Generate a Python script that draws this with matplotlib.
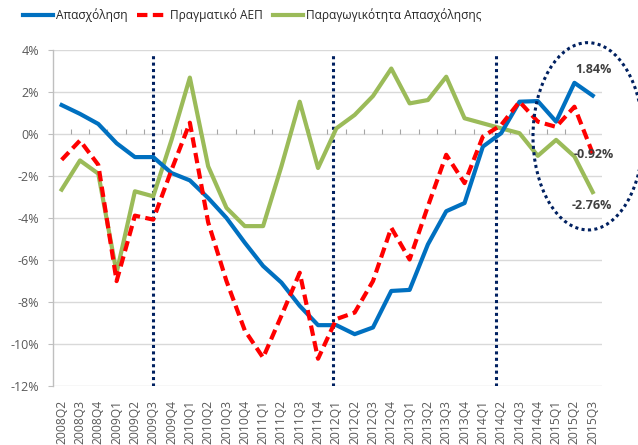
import matplotlib
matplotlib.use("Agg")
import matplotlib.pyplot as plt
from matplotlib.patches import Ellipse

plt.rcParams['font.family'] = ['Open Sans', 'DejaVu Sans']

quarters = ["2008Q2", "2008Q3", "2008Q4", "2009Q1", "2009Q2", "2009Q3", "2009Q4",
            "2010Q1", "2010Q2", "2010Q3", "2010Q4", "2011Q1", "2011Q2", "2011Q3",
            "2011Q4", "2012Q1", "2012Q2", "2012Q3", "2012Q4", "2013Q1", "2013Q2",
            "2013Q3", "2013Q4", "2014Q1", "2014Q2", "2014Q3", "2014Q4", "2015Q1",
            "2015Q2", "2015Q3"]

employment = [1.39, 0.97, 0.49, -0.43, -1.09, -1.09, -1.85, -2.2, -3.04, -3.99,
              -5.17, -6.28, -7.07, -8.18, -9.1, -9.1, -9.53, -9.21, -7.47, -7.42,
              -5.25, -3.67, -3.28, -0.59, 0.05, 1.55, 1.58, 0.6, 2.45, 1.84]
real_gdp = [-1.22, -0.30, -1.46, -7.0, -3.88, -4.07, -1.7, 0.55, -4.2, -7.0,
            -9.35, -10.65, -8.65, -6.6, -10.7, -8.81, -8.5, -7.0, -4.46, -5.97,
            -3.43, -0.98, -2.33, -0.11, 0.44, 1.55, 0.6, 0.35, 1.31, -0.92]
productivity = [-2.64, -1.25, -1.88, -6.6, -2.72, -2.96, -0.27, 2.7, -1.53, -3.51,
                -4.38, -4.38, -1.53, 1.55, -1.61, 0.28, 0.92, 1.82, 3.13, 1.47,
                1.63, 2.74, 0.76, 0.52, 0.28, 0.05, -1.03, -0.27, -1.06, -2.76]

series_names = ["Απασχόληση", "Πραγματικό ΑΕΠ", "Παραγωγικότητα Απασχόλησης"]
y_ticks = [4, 2, 0, -2, -4, -6, -8, -10, -12]
event_positions = [5.0, 14.83, 23.72]

BLUE = "#0070C0"
RED = "#FF0000"
GREEN = "#9BBB59"
NAVY = "#002060"
TXT = "#595959"

fig = plt.figure(figsize=(6.38, 4.45), dpi=100)
ax = fig.add_axes([52.5 / 638, 1 - 386 / 445, (601.9 - 52.5) / 638, (386 - 50.3) / 445])

x = list(range(len(quarters)))

ax.set_ylim(-12, 4)
ax.set_xlim(-0.5, len(quarters) - 0.5)

for yv in y_ticks:
    ax.axhline(yv, color="#D9D9D9", lw=1.0, zorder=0)

for xp in event_positions:
    ax.plot([xp, xp], [-12, 3.8], color=NAVY, lw=2.2, linestyle=(0, (1, 1.1)),
            dash_capstyle="butt", zorder=1)

ax.plot(x, employment, color=BLUE, lw=3.0, label=series_names[0], zorder=3,
        solid_joinstyle="round")
ax.plot(x, real_gdp, color=RED, lw=3.0, linestyle=(0, (2.5, 1.3)),
        label=series_names[1], zorder=4)
ax.plot(x, productivity, color=GREEN, lw=3.0, label=series_names[2], zorder=2,
        solid_joinstyle="round")

# spines
for s in ["top", "right", "bottom"]:
    ax.spines[s].set_visible(False)
ax.spines["left"].set_color("#BFBFBF")
ax.spines["left"].set_linewidth(1.0)

ax.set_yticks(y_ticks)
ax.set_yticklabels([f"{v}%" for v in y_ticks], color=TXT, fontsize=9)
ax.tick_params(axis="y", length=3.5, color="#BFBFBF", pad=6)

ax.set_xticks(x)
ax.set_xticklabels(quarters, rotation=90, color=TXT, fontsize=8.7)
ax.tick_params(axis="x", length=0, pad=10)

# category axis line at 0 with tick marks between categories
sec = ax.secondary_xaxis(12 / 16)
sec.set_xticks([i + 0.5 for i in range(len(quarters) - 1)])
sec.set_xticklabels([])
sec.tick_params(axis="x", length=3.5, direction="out", color="#A6A6A6", width=0.8)
sec.spines["bottom"].set_color("#A6A6A6")
sec.spines["bottom"].set_linewidth(1.0)
sec.spines["top"].set_visible(False)

# end-value labels
last = len(quarters) - 1
ax.annotate(f"{employment[-1]:.2f}%", xy=(last, employment[-1]), xytext=(0.5, 19),
            textcoords="offset points", ha="center", va="center",
            fontsize=9, fontweight="bold", color="#404040", zorder=6)
ax.annotate(f"{real_gdp[-1]:.2f}%", xy=(last, real_gdp[-1]), xytext=(0.5, -1),
            textcoords="offset points", ha="center", va="center",
            fontsize=9, fontweight="bold", color="#404040", zorder=6)
ax.annotate(f"{productivity[-1]:.2f}%", xy=(last, productivity[-1]), xytext=(-0.5, -9.5),
            textcoords="offset points", ha="center", va="center",
            fontsize=9, fontweight="bold", color="#404040", zorder=6)

# dotted ellipse highlighting the latest quarters
ell = Ellipse((588 / 638, 1 - 136.3 / 445), 110 / 638, 187.3 / 445,
              transform=fig.transFigure, fill=False, edgecolor=NAVY, lw=2.2,
              linestyle=(0, (1, 1.1)), clip_on=False, zorder=7)
fig.patches.append(ell)

leg = fig.legend(loc="center", bbox_to_anchor=(252 / 638, 1 - 15 / 445), ncol=3,
                 frameon=False, fontsize=8.6, handlelength=2.5, handletextpad=0.25,
                 columnspacing=0.85)
for t in leg.get_texts():
    t.set_color("#262626")

fig.savefig("out.png", dpi=100)
